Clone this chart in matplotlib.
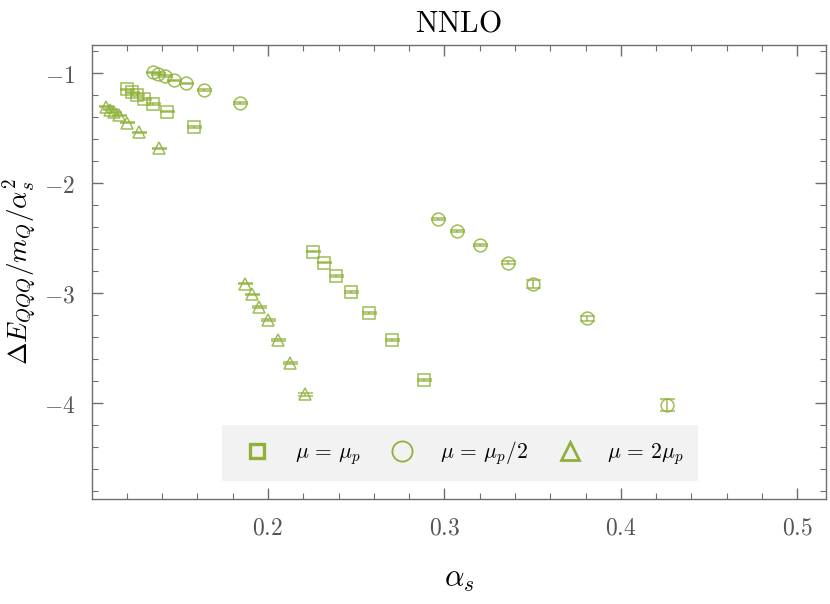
import numpy as np
import matplotlib
matplotlib.use("Agg")
import matplotlib.pyplot as plt
from matplotlib.lines import Line2D
from matplotlib.ticker import MultipleLocator, FuncFormatter

# mu = mu_p (squares)
sq_alpha = [0.1203, 0.1228, 0.1260, 0.1297, 0.1350, 0.1426, 0.1581,
            0.2257, 0.2316, 0.2387, 0.2472, 0.2574, 0.2704, 0.2882]
sq_val = [-1.148, -1.173, -1.200, -1.236, -1.282, -1.352, -1.491,
          -2.625, -2.725, -2.845, -2.991, -3.179, -3.430, -3.791]
sq_err = [0.005, 0.005, 0.005, 0.005, 0.006, 0.006, 0.008,
          0.006, 0.006, 0.007, 0.008, 0.009, 0.010, 0.012]

# mu = mu_p/2 (circles)
ci_alpha = [0.1347, 0.1378, 0.1416, 0.1467, 0.1535, 0.1637, 0.1840,
            0.2961, 0.3069, 0.3201, 0.3361, 0.3500, 0.3806, 0.4261]
ci_val = [-0.994, -1.009, -1.027, -1.064, -1.094, -1.155, -1.270,
          -2.330, -2.439, -2.561, -2.725, -2.918, -3.230, -4.018]
ci_err = [0.005, 0.005, 0.005, 0.005, 0.006, 0.006, 0.008,
          0.008, 0.009, 0.010, 0.012, 0.033, 0.020, 0.055]

# mu = 2 mu_p (triangles)
tr_alpha = [0.1082, 0.1104, 0.1130, 0.1156, 0.1204, 0.1269, 0.1382,
            0.1871, 0.1908, 0.1949, 0.1998, 0.2055, 0.2126, 0.2211]
tr_val = [-1.306, -1.332, -1.357, -1.386, -1.452, -1.538, -1.686,
          -2.915, -3.012, -3.125, -3.248, -3.425, -3.639, -3.921]
tr_err = [0.005, 0.005, 0.005, 0.005, 0.006, 0.006, 0.008,
          0.006, 0.006, 0.007, 0.008, 0.009, 0.010, 0.012]

GREEN = "#8fb13a"
GRAY = "#6e6e6e"

plt.rcParams["mathtext.fontset"] = "cm"

fig = plt.figure(figsize=(8.3, 6.04), dpi=100)
ax = fig.add_axes([0.1108, 0.1738, 0.8843, 0.7517])

series = [
    (sq_alpha, sq_val, sq_err, "s", 8.5),
    (ci_alpha, ci_val, ci_err, "o", 9.2),
    (tr_alpha, tr_val, tr_err, "^", 9.0),
]
for xs, ys, es, mk, ms in series:
    ax.errorbar(xs, ys, yerr=es, fmt=mk, ms=ms, mfc="none", mec=GREEN,
                mew=1.1, ecolor=GREEN, elinewidth=1.1, capsize=5.4,
                capthick=1.6, color=GREEN, alpha=0.85, zorder=3)

ax.set_xlim(0.1003, 0.5162)
ax.set_ylim(-4.873, -0.745)

ax.xaxis.set_major_locator(MultipleLocator(0.1))
ax.xaxis.set_minor_locator(MultipleLocator(0.02))
ax.yaxis.set_major_locator(MultipleLocator(1))
ax.yaxis.set_minor_locator(MultipleLocator(0.2))
ax.xaxis.set_major_formatter(FuncFormatter(lambda v, p: r"$%.1f$" % v))
ax.yaxis.set_major_formatter(FuncFormatter(lambda v, p: r"$%d$" % round(v)))

ax.tick_params(which="both", direction="in", top=True, right=True,
               color=GRAY, labelcolor="#555555", labelsize=17, pad=12)
ax.tick_params(which="major", length=8, width=1.0)
ax.tick_params(which="minor", length=4, width=0.8)
for sp in ax.spines.values():
    sp.set_color(GRAY)
    sp.set_linewidth(1.0)

ax.set_xlabel(r"$\alpha_s$", fontsize=22, labelpad=18)
ax.set_ylabel(r"$\Delta E_{QQQ}/m_Q/\alpha_s^2$", fontsize=19.5, labelpad=3)
ax.set_title(r"$\mathrm{NNLO}$", fontsize=21.5, pad=10)

handles = [
    Line2D([], [], ls="none", marker="s", ms=9.5, mfc="none", mec=GREEN, mew=2.4),
    Line2D([], [], ls="none", marker="o", ms=14.5, mfc="none", mec=GREEN, mew=1.3),
    Line2D([], [], ls="none", marker="^", ms=12.5, mfc="none", mec=GREEN, mew=2.0),
]
labels = [r"$\mu\,=\,\mu_p$", r"$\mu\,=\,\mu_p/2$", r"$\mu\,=\,2\mu_p$"]
leg = ax.legend(handles, labels, ncol=3, loc="lower left",
                bbox_to_anchor=(0.177, 0.04),
                fontsize=15.5, frameon=True, fancybox=False, facecolor="#f2f2f2",
                edgecolor="none", framealpha=1, handlelength=1.95,
                handletextpad=0.78, borderaxespad=0, borderpad=0.65,
                columnspacing=0.96)

fig.savefig("out.png", dpi=100)
